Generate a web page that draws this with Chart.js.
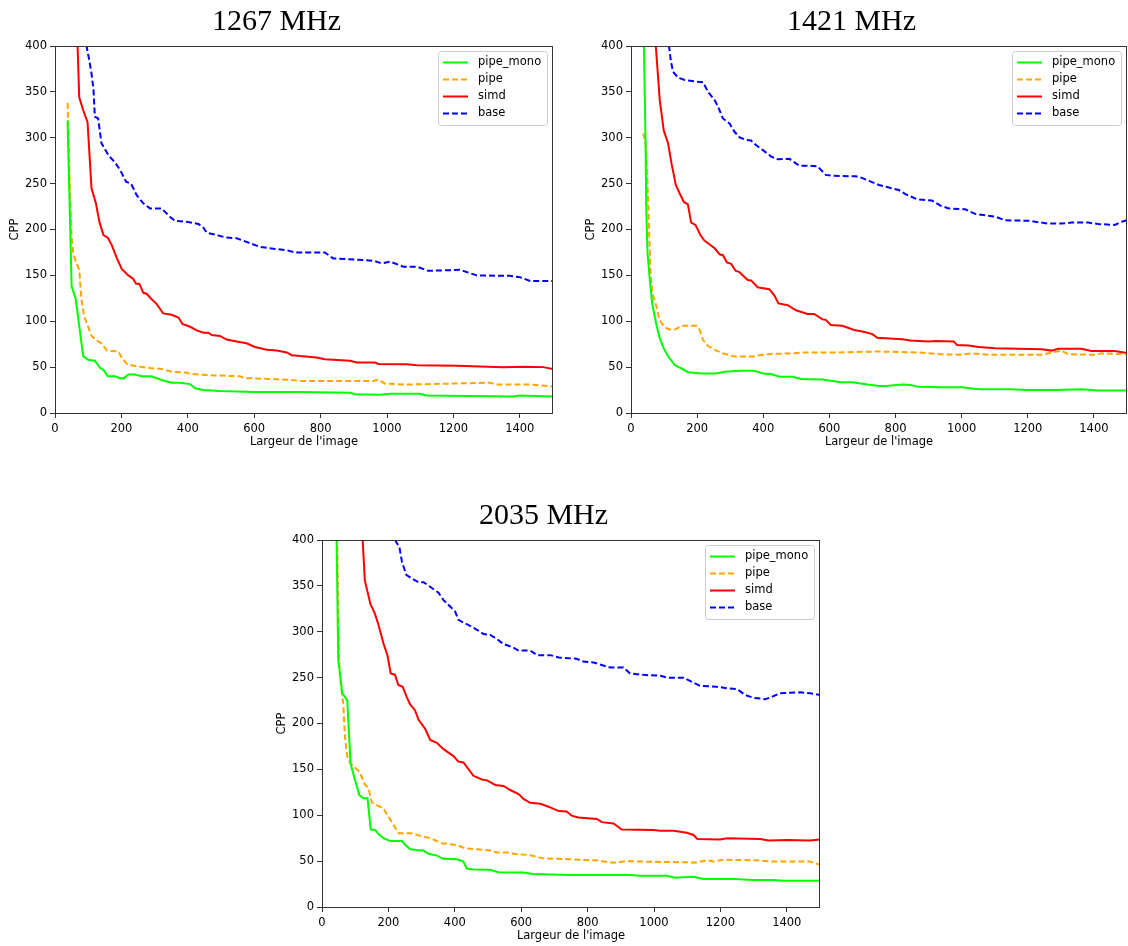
<!DOCTYPE html>
<html>
<head>
<meta charset="utf-8">
<script src="https://cdn.jsdelivr.net/npm/chart.js@4.4.0/dist/chart.umd.min.js"></script>
<style>
  body { margin: 0; background: #fff; width: 1128px; height: 946px; position: relative; overflow: hidden; }
  .box { position: absolute; }
</style>
</head>
<body>
<div class="box" style="left:0px;top:0px;width:570px;height:455px"><canvas id="c0"></canvas></div>
<div class="box" style="left:576px;top:0px;width:552px;height:455px"><canvas id="c1"></canvas></div>
<div class="box" style="left:267px;top:494px;width:570px;height:455px"><canvas id="c2"></canvas></div>
<script>
// frequences (titres) et noms des series
const titles = ['1267 MHz', '1421 MHz', '2035 MHz'];
const seriesNames = ['pipe_mono', 'pipe', 'simd', 'base'];
const xTickValues = [0, 200, 400, 600, 800, 1000, 1200, 1400];
const yTickValues = [0, 50, 100, 150, 200, 250, 300, 350, 400];

// 1267 MHz : [largeur, CPP]
const f1267_pipeMono = [[38,319],[50,138],[62,125],[85,62],[100,58],[120,57],[136,49],[146,47],[159,40],[181,40],[196,38],[208,38],[221,42],[241,42],[261,40],[291,40],[321,36],[351,33],[376,33],[407,31.5],[422,27],[447,25],[497,24],[600,23],[738,23],[889,22],[904,20.5],[979,20],[1009,21],[1099,21],[1119,19],[1380,18],[1400,19],[1500,18]];
const f1267_pipe = [[38,338],[46,230],[50,192],[55,174],[65,163],[73,156],[80,123],[88,105],[100,94],[110,84],[130,78],[140,76],[156,68],[191,67],[201,60],[218,53],[246,51],[286,49],[321,48],[351,45],[396,44],[412,42.5],[477,41],[557,40],[572,38],[657,37],[708,36],[738,35],[959,35],[974,36.5],[994,32],[1060,31],[1310,33],[1330,31],[1431,31],[1500,29]];
const f1267_simd = [[62,470],[68,400],[73,344],[85,330],[98,317],[110,245],[123,229],[134,208],[146,194],[159,191],[171,183],[186,169],[201,157],[221,150],[236,146],[244,141],[254,141],[266,131],[276,130],[291,124],[306,119],[326,108.5],[351,107],[372,104],[384,97],[407,94],[427,90],[447,87.5],[462,87.5],[472,85],[497,84],[517,80],[547,78],[577,76],[602,72],[638,69],[668,68],[698,66],[713,63],[738,62],[788,60.5],[813,58.5],[889,57],[909,55],[964,55],[974,53.5],[1060,53],[1090,52],[1210,51.5],[1350,50],[1411,50.5],[1471,50],[1500,48]];
const f1267_base = [[80,430],[95,400],[103,385],[110,370],[116,352],[120,323],[130,321],[140,294],[161,281],[181,273],[196,265],[214,252],[229,250],[246,237.5],[266,228.5],[286,223],[321,223],[346,214],[361,209.5],[396,208.5],[432,206],[447,202],[457,196.5],[487,194],[512,191.5],[547,190.5],[577,186.5],[617,181],[658,179],[698,177.5],[723,175],[813,175],[838,168.5],[959,166],[984,163],[1009,165],[1049,159.5],[1090,159.5],[1124,155],[1220,156],[1270,150],[1370,149.5],[1401,148],[1431,144],[1500,144]];

// 1421 MHz
const f1421_pipeMono = [[34,520],[39,400],[44,297],[46,225],[50,174],[57,145],[64,119.5],[77,96],[87,81.5],[97,72],[112,62],[133,52],[153,48.5],[173,44.5],[213,43],[258,43],[283,45],[328,46],[373,46],[399,43],[424,42.5],[449,39.5],[489,39.5],[514,37],[579,36.5],[635,33.5],[670,33.5],[715,31],[750,29.5],[770,29.5],[820,31],[845,30.5],[870,28.5],[940,28],[1000,28],[1051,26],[1152,26],[1192,25],[1282,25],[1362,26],[1413,24.5],[1500,24.5]];
const f1421_pipe = [[37,305],[44,294],[50,250],[55,196],[59,152],[65,130],[77,116],[87,101],[102,93.5],[117,91],[133,91],[153,95],[198,95],[208,90.5],[218,79.5],[233,73],[258,68],[283,64.5],[313,61.5],[368,61.5],[388,63],[428,64.5],[494,65],[519,66],[619,66],[750,67],[870,66],[940,64],[1000,63.5],[1031,65],[1081,63.5],[1242,63.5],[1267,65.5],[1302,68],[1322,64],[1403,63.5],[1423,65],[1500,64]];
const f1421_simd = [[68,440],[75,400],[87,341],[99,308],[112,294],[122.5,272],[135.5,248.5],[147,239.5],[160,230],[172,227.5],[182,207.5],[195,205],[210,194],[222,188],[237,184],[253,179.5],[268,173],[278,172],[290,164],[303,162.5],[316,155],[328,153.5],[353,145],[363,144.5],[383,137],[418,135],[433,128.5],[446,119.5],[474,117.5],[499,112],[534,108],[554,108],[579,102],[589,101.5],[604,96],[639,95],[675,90.5],[710,88],[730,86],[745,82],[820,80.5],[845,79],[900,78],[920,78.5],[976,78],[986,74],[1021,73.5],[1051,72],[1102,70.5],[1242,69.5],[1272,68],[1292,70],[1362,70],[1392,67.5],[1463,67.5],[1500,65.5]];
const f1421_base = [[105,430],[115,400],[120,385],[127,372],[142,365.5],[163,363],[203,361],[218,360.5],[233,350],[253,341],[263,334],[278,321],[298,315.5],[313,306.5],[328,300.5],[348,297.5],[363,297],[378,292],[399,286.5],[424,279.5],[444,276.5],[479,277],[509,269.5],[539,269.5],[564,269],[589,259.5],[610,258.5],[680,258],[700,256],[720,253],[750,248.5],[810,243],[830,238.5],[865,233],[910,231.5],[936,226],[961,223],[1011,222],[1041,217],[1102,214],[1132,210],[1202,209.5],[1222,208.5],[1262,206.5],[1302,206.5],[1332,207.5],[1383,207.5],[1413,206],[1463,205],[1484,208.5],[1500,210]];

// 2035 MHz
const f2035_pipeMono = [[38,600],[44,400],[49,269],[54,255],[61,233],[69,229],[76,225.5],[86,156.5],[99.5,138.5],[112.5,122],[124.5,118.5],[137,118.5],[147,84.5],[160,84],[170,79.5],[185,75],[205,72],[241,72],[251,67.5],[266,63],[286,62],[306,61.5],[321,58],[346,56],[366,52.5],[406,52],[426,49.5],[436,42],[456,41],[506,40.5],[531,38],[606,37.5],[636,36],[747,35],[928,35],[958,34],[1039,34],[1063,32],[1119,33],[1149,30.5],[1239,30.5],[1299,29.5],[1360,29.5],[1390,28.5],[1500,28.5]];
const f2035_pipe = [[40,600],[46,400],[51,273],[56,244],[64,222],[69,186],[76,164],[86,156.5],[99.5,152],[112.5,147.5],[130,133],[140,129.5],[150,114],[165,111],[185,107.5],[205,95.5],[231,80.5],[266,80.5],[296,77.5],[326,75],[361,69.5],[406,67.5],[431,64],[467,63],[507,61.5],[527,59.5],[557,59.5],[577,58],[627,56.5],[667,53],[717,52.5],[837,50.5],[867,48.5],[887,48.5],[918,50],[968,49.5],[1129,48.5],[1159,51],[1179,49.5],[1210,51.5],[1300,51],[1360,49.5],[1470,49.5],[1500,46]];
const f2035_simd = [[115,450],[122.5,400],[129,356],[146,330],[159,320],[169,309],[185,287.5],[197,274.5],[207,254.5],[220,253],[230,242],[243,240],[255,229],[265,221],[280,214.5],[291,204],[311,194],[326,182],[346,179],[366,172],[396,164.5],[411,158.5],[426,157.5],[456,143],[482,139],[497,138],[522,133],[547,132],[567,127.5],[592,123],[608,117.5],[627,113.5],[658,112.5],[688,108.5],[713,104.5],[737,104],[752,99.5],[772,97.5],[828,96],[843,92.5],[878,91],[903,84.5],[999,84],[1019,83],[1059,83],[1099,81],[1119,78.5],[1131,74],[1199,73.5],[1220,75],[1320,74],[1345,72.5],[1400,73],[1470,72.5],[1500,73.5]];
const f2035_base = [[218,410],[223,398],[233,392.5],[241,376],[254,362],[271,358],[291,354],[306,354],[326,349],[351,342.5],[366,334.5],[386,327.5],[401,322],[411,313],[426,310],[446,306.5],[467,302],[487,297.5],[507,296.5],[527,292],[547,286.5],[572,283.5],[592,279.5],[627,279.5],[648,274.5],[688,274.5],[713,272],[767,270.5],[787,267.5],[818,266.5],[868,261],[908,261],[928,254.5],[968,253],[1019,252],[1039,250],[1089,250],[1119,244.5],[1139,241],[1189,240],[1220,238.5],[1250,237.5],[1275,231],[1300,228],[1335,226.5],[1355,229],[1380,233],[1440,234],[1470,233],[1500,231]];

const allSeries = [
  [f1267_pipeMono, f1267_pipe, f1267_simd, f1267_base],
  [f1421_pipeMono, f1421_pipe, f1421_simd, f1421_base],
  [f2035_pipeMono, f2035_pipe, f2035_simd, f2035_base]
];
const colors = ['#00ff00', '#ffa500', '#ff0000', '#0000ff'];
const dashes = [[], [6, 3], [], [6, 3]];
const rightPad = [17, 1, 17];

const smallFont = { family: 'DejaVu Sans', size: 11.5 };

// cadre + legende dans la zone du graphe
const framePlugin = {
  id: 'frame',
  afterDraw(chart) {
    const a = chart.chartArea;
    const ctx = chart.ctx;
    ctx.save();
    ctx.strokeStyle = '#333';
    ctx.lineWidth = 1;
    ctx.strokeRect(Math.floor(a.left) + 0.5, Math.floor(a.top) + 0.5,
      Math.round(a.right - a.left) - 1, Math.round(a.bottom - a.top));

    const w = 109, h = 74;
    const bx = a.right - 6 - w, by = a.top + 5;
    ctx.fillStyle = 'rgba(255,255,255,0.8)';
    ctx.strokeStyle = '#cccccc';
    ctx.beginPath();
    ctx.roundRect(bx + 0.5, by + 0.5, w, h, 3);
    ctx.fill();
    ctx.stroke();
    ctx.font = '11.5px "DejaVu Sans"';
    ctx.textBaseline = 'middle';
    chart.data.datasets.forEach((ds, i) => {
      const yy = by + 11.5 + 17 * i;
      ctx.strokeStyle = ds.borderColor;
      ctx.lineWidth = 2;
      ctx.setLineDash(ds.borderDash);
      ctx.beginPath();
      ctx.moveTo(bx + 5, yy);
      ctx.lineTo(bx + 30, yy);
      ctx.stroke();
      ctx.setLineDash([]);
      ctx.fillStyle = '#000';
      ctx.fillText(ds.label, bx + 40, yy);
    });
    ctx.restore();
  }
};

allSeries.forEach((series, k) => {
  new Chart(document.getElementById('c' + k), {
    type: 'line',
    data: {
      datasets: series.map((pts, i) => ({
        label: seriesNames[i],
        data: pts,
        borderColor: colors[i],
        borderDash: dashes[i],
        borderWidth: 2,
        pointRadius: 0,
        tension: 0,
        fill: false
      }))
    },
    options: {
      responsive: true,
      maintainAspectRatio: false,
      animation: false,
      layout: { padding: { left: 0, right: rightPad[k], top: 0, bottom: 0 } },
      plugins: {
        legend: { display: false },
        tooltip: { enabled: false },
        title: {
          display: true,
          text: titles[k],
          color: '#000',
          font: { family: 'Liberation Serif', size: 30, weight: 'normal' },
          padding: { top: 4, bottom: 6 }
        }
      },
      scales: {
        x: {
          type: 'linear',
          min: 0,
          max: 1500,
          afterBuildTicks: s => { s.ticks = xTickValues.map(v => ({ value: v })); },
          afterFit: s => { s.height = 42; },
          grid: { display: true, drawOnChartArea: false, drawTicks: true, tickLength: 5, color: '#333' },
          border: { display: false },
          ticks: { color: '#000', font: smallFont, padding: 4, maxRotation: 0, autoSkip: false, callback: v => String(v) },
          title: { display: true, text: "Largeur de l'image", color: '#000', font: smallFont, padding: { top: 0, bottom: 6 } }
        },
        y: {
          min: 0,
          max: 400,
          afterBuildTicks: s => { s.ticks = yTickValues.map(v => ({ value: v })); },
          afterFit: s => { s.width = 55; },
          grid: { display: true, drawOnChartArea: false, drawTicks: true, tickLength: 5, color: '#333' },
          border: { display: false },
          ticks: { color: '#000', font: smallFont, padding: 3, autoSkip: false, callback: v => String(v) },
          title: { display: true, text: 'CPP', color: '#000', font: smallFont, padding: { top: 8, bottom: 0 } }
        }
      }
    },
    plugins: [framePlugin]
  });
});
</script>
</body>
</html>
